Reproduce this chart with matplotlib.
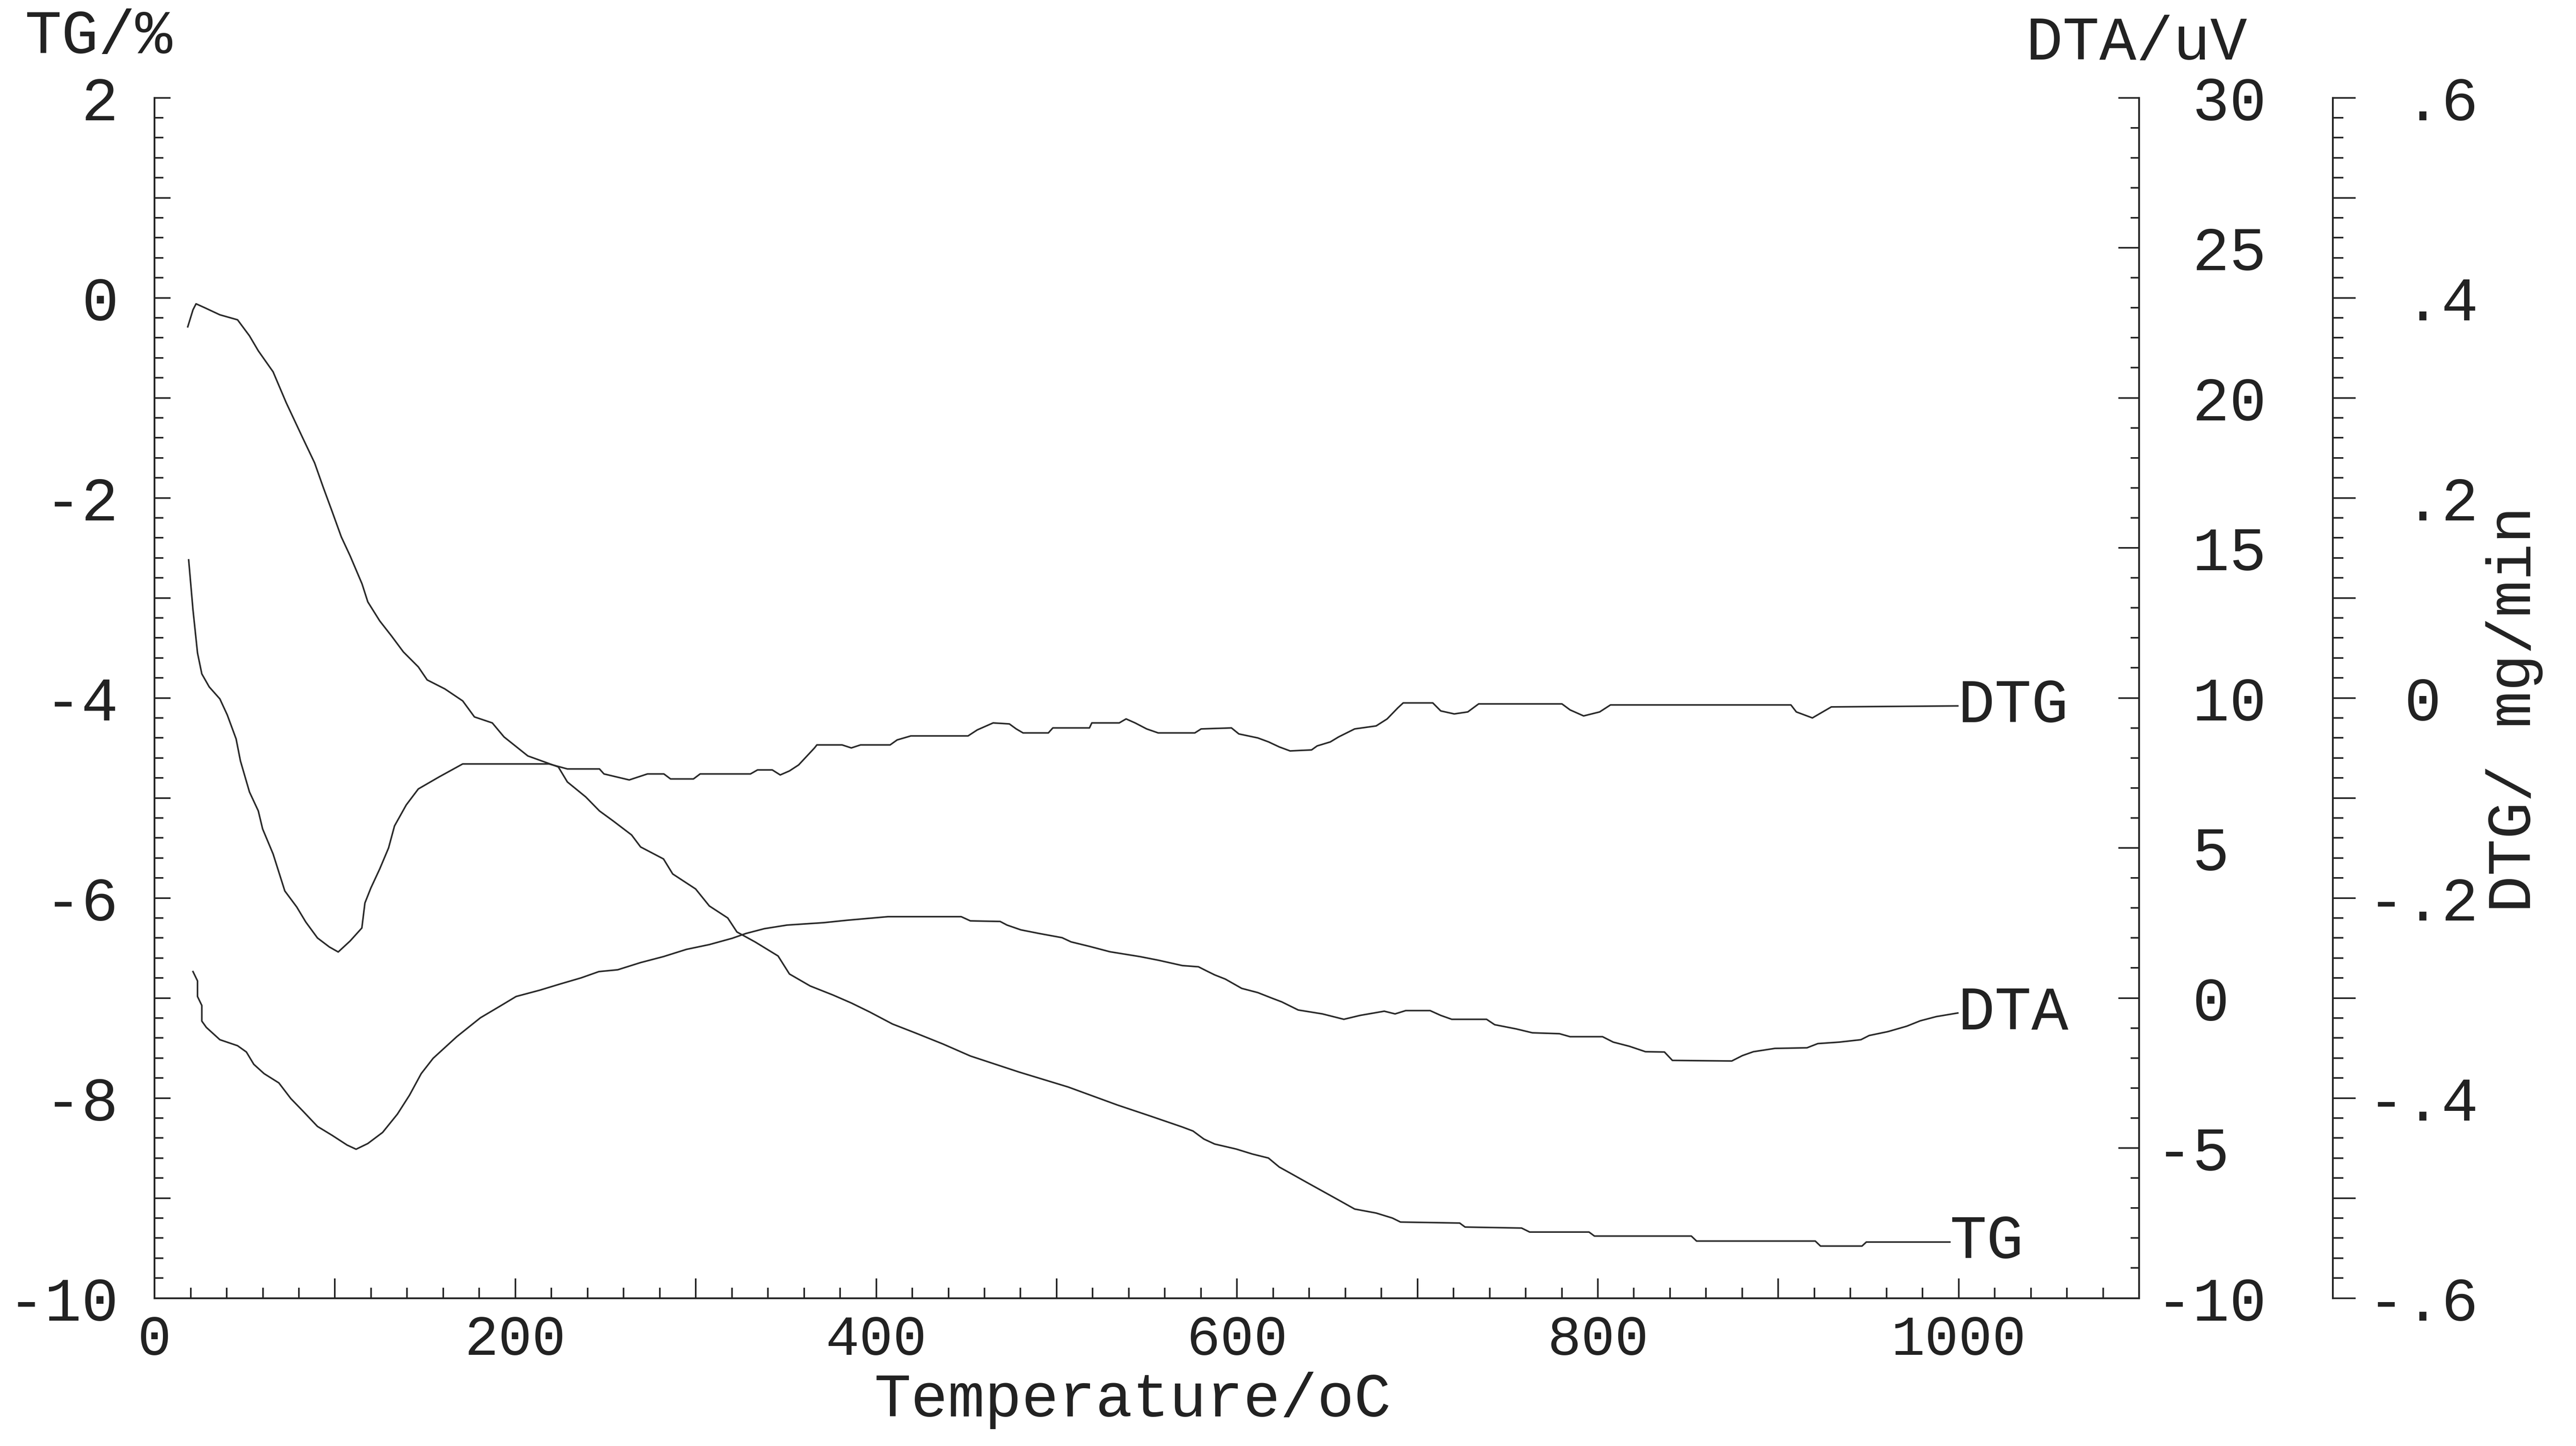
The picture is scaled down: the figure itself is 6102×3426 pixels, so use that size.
import numpy as np
import matplotlib
matplotlib.use('Agg')
import matplotlib.pyplot as plt
from matplotlib.ticker import MultipleLocator

# TG / % against temperature
tg_temp = [18.4, 21.3, 23.0, 27.9, 36.2, 46.0, 52.6, 57.5, 65.7, 73.0, 82.1, 88.7,
           93.6, 98.5, 103.5, 108.4, 115.0, 118.2, 124.8, 131.3, 137.9, 146.2, 151.1,
           160.9, 170.8, 177.3, 187.2, 193.7, 206.9, 223.8, 228.8, 239.0, 246.6, 254.2,
           264.4, 269.4, 282.1, 287.2, 299.9, 307.5, 317.7, 322.8, 332.9, 345.6, 351.9,
           363.4, 376.0, 386.2, 396.4, 409.0, 421.8, 437.0, 452.2, 479.1, 506.4, 533.7,
           551.9, 569.7, 575.6, 581.6, 587.6, 599.5, 608.5, 617.4, 623.4, 629.4, 638.3,
           647.3, 656.3, 665.2, 677.1, 686.1, 690.6, 723.4, 726.4, 757.7, 762.2, 795.1,
           798.1, 851.8, 854.7, 920.5, 923.4, 946.4, 948.8, 995.1]
tg_pct = [-0.29, -0.12, -0.06, -0.10, -0.17, -0.22, -0.38, -0.53, -0.74, -1.05, -1.40, -1.65,
          -1.90, -2.14, -2.39, -2.58, -2.86, -3.04, -3.23, -3.38, -3.54, -3.69, -3.82,
          -3.91, -4.03, -4.19, -4.25, -4.39, -4.58, -4.69, -4.84, -4.99, -5.13, -5.23,
          -5.37, -5.49, -5.61, -5.76, -5.91, -6.08, -6.20, -6.34, -6.44, -6.58, -6.76,
          -6.88, -6.97, -7.05, -7.14, -7.26, -7.35, -7.46, -7.58, -7.74, -7.89, -8.07,
          -8.18, -8.29, -8.33, -8.41, -8.46, -8.51, -8.56, -8.60, -8.69, -8.75, -8.84,
          -8.93, -9.02, -9.11, -9.15, -9.20, -9.24, -9.25, -9.29, -9.30, -9.34, -9.34,
          -9.38, -9.38, -9.43, -9.43, -9.48, -9.48, -9.44, -9.44]

# DTA / uV
dta_temp = [21.3, 23.8, 23.8, 26.2, 26.2, 28.7, 36.2, 46.0, 50.9, 55.0, 60.7, 68.9,
            75.5, 82.1, 90.3, 98.5, 106.7, 111.7, 118.2, 126.4, 134.6, 141.3, 147.8,
            154.4, 167.5, 180.6, 192.1, 200.4, 213.5, 225.0, 236.4, 246.3, 256.7, 269.4,
            282.1, 294.8, 307.5, 320.2, 327.8, 338.0, 350.6, 370.9, 383.7, 398.9, 406.5,
            447.1, 452.2, 468.7, 472.5, 480.2, 490.3, 503.0, 508.0, 518.2, 529.6, 546.1,
            556.3, 569.7, 578.6, 583.2, 587.6, 593.5, 602.6, 611.5, 619.1, 624.8, 633.9,
            647.3, 659.2, 668.2, 681.6, 687.6, 693.5, 707.0, 712.9, 719.0, 738.3, 742.8,
            754.7, 763.7, 778.7, 784.6, 802.6, 808.5, 817.5, 826.4, 836.9, 841.3, 874.2,
            880.1, 886.2, 898.1, 915.9, 921.9, 933.9, 945.8, 950.4, 960.8, 971.2, 978.7,
            987.6, 999.5]
dta_uv = [0.88, 0.57, 0.05, -0.25, -0.77, -0.98, -1.39, -1.59, -1.80, -2.21, -2.52, -2.83,
          -3.35, -3.76, -4.28, -4.58, -4.90, -5.04, -4.85, -4.48, -3.87, -3.24, -2.52,
          -2.01, -1.29, -0.66, -0.25, 0.05, 0.26, 0.47, 0.67, 0.88, 0.94, 1.18,
          1.38, 1.62, 1.78, 1.99, 2.15, 2.31, 2.43, 2.51, 2.59, 2.67, 2.71,
          2.71, 2.57, 2.55, 2.43, 2.27, 2.15, 2.01, 1.87, 1.72, 1.54, 1.38,
          1.26, 1.08, 1.04, 0.90, 0.77, 0.63, 0.32, 0.18, 0.00, -0.13, -0.40,
          -0.53, -0.71, -0.58, -0.44, -0.53, -0.42, -0.42, -0.58, -0.71, -0.71, -0.89,
          -1.03, -1.16, -1.19, -1.29, -1.29, -1.47, -1.61, -1.79, -1.80, -2.08, -2.10,
          -1.92, -1.79, -1.68, -1.66, -1.52, -1.47, -1.39, -1.25, -1.12, -0.94, -0.76,
          -0.62, -0.50]

# DTG / mg/min
dtg_temp = [18.9, 21.3, 23.8, 26.2, 30.3, 36.2, 40.3, 45.2, 47.6, 52.6, 57.5, 59.9,
            65.7, 72.2, 78.8, 83.8, 90.3, 96.9, 101.8, 108.4, 114.9, 116.6, 119.9, 124.8,
            129.7, 133.0, 139.5, 146.2, 157.7, 170.8, 200.4, 218.6, 228.8, 246.6, 249.1,
            263.1, 273.2, 282.3, 286.0, 298.7, 302.4, 330.3, 334.2, 342.4, 346.8, 351.9,
            357.0, 365.8, 367.1, 381.1, 386.2, 391.3, 407.7, 411.6, 419.2, 450.9, 456.0,
            464.8, 473.8, 477.6, 481.4, 495.4, 497.9, 518.2, 519.5, 534.7, 538.5, 543.5,
            549.9, 556.3, 576.6, 580.1, 596.9, 601.0, 611.5, 617.5, 623.4, 629.4, 641.3,
            644.4, 651.7, 656.3, 665.2, 677.1, 683.2, 689.1, 692.1, 708.5, 712.9, 720.4,
            727.9, 733.9, 780.1, 784.6, 792.1, 801.0, 807.0, 907.0, 910.0, 918.9, 929.4,
            999.5]
dtg_rate = [0.138, 0.088, 0.045, 0.024, 0.011, -0.001, -0.017, -0.041, -0.063, -0.094, -0.113, -0.131,
            -0.156, -0.193, -0.209, -0.224, -0.240, -0.249, -0.254, -0.243, -0.230, -0.205, -0.190, -0.171,
            -0.150, -0.128, -0.107, -0.091, -0.079, -0.066, -0.066, -0.066, -0.071, -0.071, -0.076,
            -0.082, -0.076, -0.076, -0.081, -0.081, -0.076, -0.076, -0.072, -0.072, -0.077, -0.073,
            -0.067, -0.050, -0.047, -0.047, -0.050, -0.047, -0.047, -0.042, -0.038, -0.038, -0.032,
            -0.025, -0.026, -0.031, -0.035, -0.035, -0.030, -0.030, -0.025, -0.025, -0.021, -0.025,
            -0.031, -0.035, -0.035, -0.031, -0.030, -0.036, -0.040, -0.044, -0.049, -0.053, -0.052,
            -0.048, -0.044, -0.039, -0.031, -0.028, -0.021, -0.010, -0.005, -0.005, -0.013, -0.016,
            -0.014, -0.006, -0.006, -0.012, -0.018, -0.014, -0.007, -0.007, -0.014, -0.020, -0.009,
            -0.008]

# axis ticks and their labels
x_ticks = [0, 100, 200, 300, 400, 500, 600, 700, 800, 900, 1000, 1100]
x_labels = ['0', '', '200', '', '400', '', '600', '', '800', '', '1000', '']
tg_ticks = [-10, -9, -8, -7, -6, -5, -4, -3, -2, -1, 0, 1, 2]
tg_labels = ['-10', '', '-8', '', '-6', '', '-4', '', '-2', '', '0', '', '2']
dta_ticks = [-10, -5, 0, 5, 10, 15, 20, 25, 30]
dta_labels = ['-10', '-5', ' 0', ' 5', ' 10', ' 15', ' 20', ' 25', ' 30']
dtg_ticks = [-0.6, -0.5, -0.4, -0.3, -0.2, -0.1, 0.0, 0.1, 0.2, 0.3, 0.4, 0.5, 0.6]
dtg_labels = ['-.6', '', '-.4', '', '-.2', '', ' 0', '', ' .2', '', ' .4', '', ' .6']

plt.rcParams['font.family'] = ['Liberation Mono', 'DejaVu Sans Mono']
plt.rcParams['font.size'] = 35
ink = '#222222'

fig = plt.figure(figsize=(20.34, 11.42), dpi=300)
ax = fig.add_axes([0.0600, 0.1023, 0.7704, 0.8301])
ax2 = ax.twinx()
ax3 = ax.twinx()

ax.plot(tg_temp, tg_pct, color='#2a2a2a', lw=0.9)
ax2.plot(dta_temp, dta_uv, color='#2a2a2a', lw=0.9)
ax3.plot(dtg_temp, dtg_rate, color='#2a2a2a', lw=0.9)

ax.set_xlim(0, 1100)
ax.set_ylim(-10, 2)
ax2.set_ylim(-10, 30)
ax3.set_ylim(-0.6, 0.6)

# spines
ax.spines['top'].set_visible(False)
ax.spines['right'].set_visible(False)
for a in (ax2, ax3):
    for s in ('top', 'left', 'bottom'):
        a.spines[s].set_visible(False)
ax3.spines['right'].set_position(('axes', 1.0977))
for a in (ax, ax2, ax3):
    for s in a.spines.values():
        s.set_linewidth(1.0)
        s.set_color(ink)

# temperature axis
ax.set_xticks(x_ticks, x_labels)
ax.xaxis.set_minor_locator(MultipleLocator(20))
ax.tick_params(axis='x', which='major', direction='in', length=11.4, width=0.9, pad=9,
               labelsize=32, color=ink)
ax.tick_params(axis='x', which='minor', direction='in', length=5.9, width=0.9, color=ink)

# TG axis
ax.set_yticks(tg_ticks, tg_labels)
ax.yaxis.set_minor_locator(MultipleLocator(0.2))
ax.tick_params(axis='y', which='major', direction='in', length=9, width=0.9, pad=20.5, color=ink)
ax.tick_params(axis='y', which='minor', direction='in', length=5, width=0.9, color=ink)

# DTA axis
ax2.set_yticks(dta_ticks, dta_labels)
ax2.yaxis.set_minor_locator(MultipleLocator(1))
ax2.tick_params(axis='y', which='major', direction='in', length=11.8, width=0.9, pad=9.3, color=ink)
ax2.tick_params(axis='y', which='minor', direction='in', length=4.9, width=0.9, color=ink)

# DTG axis
ax3.set_yticks(dtg_ticks, dtg_labels)
ax3.yaxis.set_minor_locator(MultipleLocator(0.02))
ax3.tick_params(axis='y', which='major', direction='out', length=13, width=0.9, pad=6.6, color=ink)
ax3.tick_params(axis='y', which='minor', direction='out', length=6, width=0.9, color=ink)

for a in (ax, ax2, ax3):
    for lab in a.get_xticklabels() + a.get_yticklabels():
        lab.set_color(ink)

# curve names at the line ends
ax.text(tg_temp[-1], tg_pct[-1], 'TG', ha='left', va='center', color=ink)
ax2.text(dta_temp[-1], dta_uv[-1], 'DTA', ha='left', va='center', color=ink)
ax3.text(dtg_temp[-1], dtg_rate[-1], 'DTG', ha='left', va='center', color=ink)

# axis titles
fig.text(0.0096, 0.9744, 'TG/%', ha='left', va='center', color=ink)
fig.text(0.7864, 0.9698, 'DTA/uV', ha='left', va='center', color=ink)
fig.text(0.3393, 0.0205, 'Temperature/oC', ha='left', va='baseline', color=ink)
fig.text(0.9760, 0.5094, 'DTG/ mg/min', ha='center', va='center', rotation=90, color=ink)

fig.savefig('out.png', dpi=300)
